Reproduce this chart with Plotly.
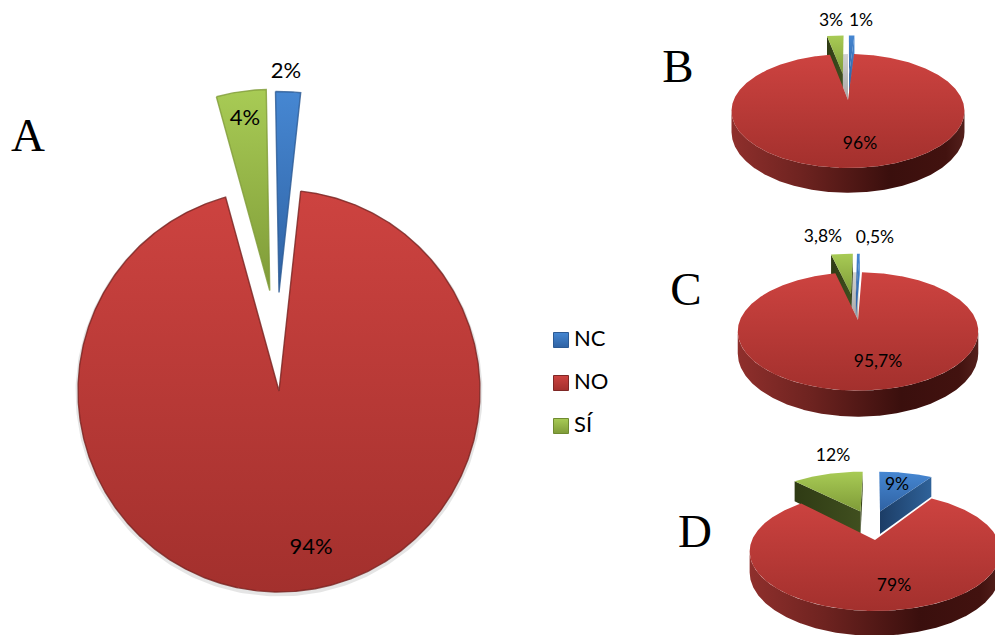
import numpy as np
import plotly.graph_objects as go

# Survey answers per panel, in percent
CATEGORIES = ["NC", "NO", "SÍ"]
VALUES_A = [2, 94, 4]
VALUES_B = [1, 96, 3]
VALUES_C = [0.5, 95.7, 3.8]
VALUES_D = [9, 79, 12]
PANEL_NAMES = ["A", "B", "C", "D"]

# Pie geometry on a 995 x 635 canvas. k is the perspective strength, depth the wall height,
# pull the (right, up) offset of a slice in units of the radius.
PIES = {
    "A": dict(values=VALUES_A, cx=279, cy=391, rx=201, ry=201, k=0.0, depth=0, rot=-1.0,
              pull=[(0.0, 0.49), None, (-0.046, 0.50)], size=22, notch=False,
              labels=[(286, 72), (311, 548), (245, 119)]),
    "B": dict(values=VALUES_B, cx=848, cy=100, rx=114.3, ry=54.9, k=0.193, depth=20, rot=0,
              pull=[(0.01, 0.52), None, (-0.05, 0.52)], size=17.5, notch=True,
              labels=[(861, 22), (860, 145), (831, 22)]),
    "C": dict(values=VALUES_C, cx=858, cy=320, rx=118, ry=57, k=0.193, depth=21, rot=0.5,
              pull=[(-0.02, 0.5), None, (-0.065, 0.5)], size=17.5, notch=True,
              labels=[(875, 239), (878, 363), (823, 238)]),
    "D": dict(values=VALUES_D, cx=875, cy=540, rx=123, ry=57.3, k=0.193, depth=20, rot=0,
              pull=[(0.045, 0.55), None, (-0.13, 0.55)], size=17.5, notch=False,
              labels=[(897, 486), (894, 587), (833, 457)]),
}

# Vertical shading of the top faces, walls and legend swatches
TOP = {"NC": ("#4687d2", "#2f62a3"), "NO": ("#cd4340", "#a3302d"), "SÍ": ("#a8cb55", "#7f9b38")}
WALL = {"NC": ("#2f6299", "#1c3d66"), "NO": ("#8b2d2a", "#3a0f0d"), "SÍ": ("#404f1f", "#2f3b14")}
RIM = {"NC": "rgba(44,90,148,0.8)", "NO": "rgba(120,35,32,0.8)", "SÍ": "rgba(127,155,56,0.8)"}
SWATCH_RIM = {"NC": "#2c5a94", "NO": "#7e2725", "SÍ": "#6f8a30"}
NOTCH_SHADE = ("#d2d2d2", "#a6a6a6")
BODY_WALL_STOPS = [[0, "#8f2f2c"], [0.3, "#6e2320"], [0.68, "#3a0f0d"], [0.92, "#42120f"], [1, "#54201c"]]
FONT = "Lato"
PULLED_WALL_SCALE = 1.25


def project(g, u, v):
    s = 1 / (1 + g["k"] * v)
    return g["cx"] + g["rx"] * u * s, g["cy"] - g["ry"] * v * s, s


def polygon(x, y, colors, kind="vertical", line=None, width=1, stops=None):
    scale = stops or [[0, colors[1]], [1, colors[0]]]
    return go.Scatter(
        x=list(x) + [x[0]], y=list(y) + [y[0]], mode="lines", fill="toself",
        fillgradient=dict(type=kind, colorscale=scale),
        line=dict(color=line or "rgba(0,0,0,0)", width=width),
        hoverinfo="skip", showlegend=False,
    )


def wedge_traces(g, name, start, sweep, pull):
    du, dv = pull or (0, 0)
    th = np.radians(np.linspace(start, start + sweep, max(int(sweep * 2), 8)))
    u = du + np.sin(th)
    v = dv + np.cos(th)
    xs, ys, ss = project(g, u, v)
    ax, ay, az = project(g, du, dv)
    traces = []
    d = g["depth"]
    if d and pull:
        # radial cut faces of a slice that has been pulled out
        h = d * PULLED_WALL_SCALE
        colors = TOP[name] if g["notch"] and name == "NC" else WALL[name]
        for i in (0, -1):
            traces.append(polygon(
                [xs[i], ax, ax, xs[i]],
                [ys[i], ay, ay + h * az, ys[i] + h * ss[i]],
                colors, kind="horizontal",
            ))
    if d and not pull:
        # front wall of the main slice, between the two widest points
        keep = v <= -g["k"]
        wx, wy, ws = xs[keep], ys[keep], ss[keep]
        traces.append(polygon(
            list(wx) + list(wx[::-1]),
            list(wy) + list((wy + d * ws)[::-1]),
            WALL[name], kind="horizontal", stops=BODY_WALL_STOPS,
        ))
    px = list(xs)
    py = list(ys)
    px.append(ax)
    py.append(ay)
    traces.append(polygon(px, py, TOP[name], line=RIM[name] if not d else None, width=1.4))
    return traces


fig = go.Figure()

for panel in PANEL_NAMES:
    g = PIES[panel]
    total = sum(g["values"])
    angle = g["rot"]
    spans = []
    for name, value in zip(CATEGORIES, g["values"]):
        sweep = 360 * value / total
        spans.append((name, angle, sweep))
        angle += sweep
    if g["notch"]:
        # shaded inside of the cut, from the far edge of the last slice to the first one
        th = np.radians(np.linspace(spans[2][1], spans[2][1] + spans[2][2], 12))
        nx, ny, _ = project(g, np.sin(th), np.cos(th))
        ax, ay, _ = project(g, 0, 0)
        fig.add_trace(polygon(list(nx) + [ax], list(ny) + [ay], NOTCH_SHADE))
    pulled = [i for i, p in enumerate(g["pull"]) if p]
    main = [i for i, p in enumerate(g["pull"]) if not p]
    # pulled slices sit behind the body of the pie
    for i in pulled + main:
        name, start, sweep = spans[i]
        if i in main and not g["depth"]:
            th = np.radians(np.linspace(start, start + sweep, 400))
            sx, sy, _ = project(g, np.sin(th), np.cos(th))
            fig.add_trace(go.Scatter(x=sx, y=sy + 2, mode="lines", hoverinfo="skip", showlegend=False,
                                     line=dict(color="rgba(0,0,0,0.10)", width=5)))
        for tr in wedge_traces(g, name, start, sweep, g["pull"][i]):
            fig.add_trace(tr)
    # value labels
    texts = [f"{v:g}%".replace(".", ",") for v in g["values"]]
    fig.add_trace(go.Scatter(
        x=[p[0] for p in g["labels"]], y=[p[1] for p in g["labels"]], text=texts,
        mode="text", textposition="middle center",
        textfont=dict(family=FONT, size=g["size"], color="#000000"),
        hoverinfo="skip", showlegend=False,
    ))

# Legend swatches
LEGEND_Y = [340, 383, 426]
fig.add_trace(go.Scatter(
    x=[561] * 3, y=LEGEND_Y, mode="markers",
    marker=dict(symbol="square", size=15,
                color=[TOP[c][0] for c in CATEGORIES],
                gradient=dict(type="vertical", color=[TOP[c][1] for c in CATEGORIES]),
                line=dict(color=[SWATCH_RIM[c] for c in CATEGORIES], width=1)),
    hoverinfo="skip", showlegend=False,
))
fig.add_trace(go.Scatter(
    x=[574] * 3, y=LEGEND_Y, text=CATEGORIES, mode="text", textposition="middle right",
    textfont=dict(family=FONT, size=22, color="#000000"),
    hoverinfo="skip", showlegend=False,
))

# Panel letters
LETTERS_X = [28, 678, 686, 695]
LETTERS_Y = [139, 70, 293, 535]
fig.add_trace(go.Scatter(
    x=LETTERS_X, y=LETTERS_Y, text=PANEL_NAMES, mode="text", textposition="middle center",
    textfont=dict(family="Liberation Serif", size=47, color="#000000"),
    hoverinfo="skip", showlegend=False,
))

fig.update_layout(
    width=995, height=635, margin=dict(l=0, r=0, t=0, b=0),
    paper_bgcolor="white", plot_bgcolor="white", showlegend=False,
    xaxis=dict(range=[0, 995], visible=False, fixedrange=True),
    yaxis=dict(range=[635, 0], visible=False, fixedrange=True),
)
fig.write_html("out.html", config=dict(displayModeBar=False))
